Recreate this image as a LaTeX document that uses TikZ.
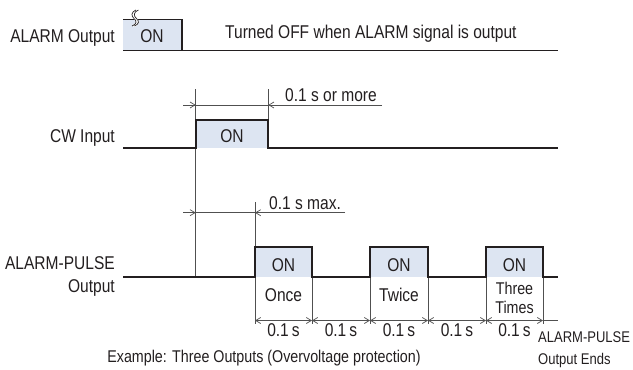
\documentclass[tikz,border=0pt]{standalone}
\usepackage{fontspec}
\setmainfont{Liberation Sans}[FakeStretch=0.84]
\usetikzlibrary{arrows.meta}
\definecolor{onfill}{HTML}{DDE5F2}
\definecolor{sigc}{HTML}{231F20}
\definecolor{dimc}{HTML}{505050}
\begin{document}
\begin{tikzpicture}[x=1pt,y=-1pt,
  sig/.style={line width=1.9pt, draw=sigc, line join=miter},
  thinline/.style={line width=0.7pt, draw=dimc},
  tip/.tip={Straight Barb[length=5pt,width=6pt,line width=0.7pt]},
  lbl/.style={inner sep=0pt, font=\fontsize{18.5}{15}\selectfont, text=sigc},
  slbl/.style={inner sep=0pt, font=\fontsize{15.5}{18}\selectfont, text=sigc}]
\useasboundingbox (0,0) rectangle (633,370);
\fill[white] (0,0) rectangle (633,370);

% ---------- ALARM Output ----------
\fill[onfill] (123,19.5) rectangle (182,50.5);
\draw[sig] (123,19.5) -- (182,19.5) -- (182,50.5);
\draw[sig] (123,50.5) -- (558,50.5);
% break mark
\draw[white, line width=2.8pt] (137.2,10) .. controls (132.2,12) and (132.2,16) .. (135.2,18.5) .. controls (138.2,21) and (138.2,24) .. (133.2,26);
\draw[sigc, line width=0.7pt] (136,10) .. controls (131,12) and (131,16) .. (134,18.5) .. controls (137,21) and (137,24) .. (132,26);
\draw[sigc, line width=0.7pt] (138.4,10) .. controls (133.4,12) and (133.4,16) .. (136.4,18.5) .. controls (139.4,21) and (139.4,24) .. (134.4,26);
\node[lbl, anchor=base east] (alarmlbl) at (115,42) {ALARM Output};
\node[lbl, anchor=base] (alarmon) at (152,42.5) {ON};
\node[lbl, anchor=base west] (note) at (225,38) {Turned OFF when ALARM signal is output};

% ---------- CW Input ----------
\coordinate (cwtop1) at (195.7,89);
\coordinate (cwtop2) at (268.3,89);
\coordinate (cwbot1) at (195.7,277.3);
\coordinate (cwbox2) at (268.3,120);
\draw[thinline] (cwtop1) -- (cwbot1);
\draw[thinline] (cwtop2) -- (cwbox2);
\fill[onfill] (195.7,120) rectangle (268.3,148.3);
\draw[sig] (123,148.3) -- (195.7,148.3) -- (195.7,120) -- (268.3,120) -- (268.3,148.3) -- (558,148.3);
\node[lbl, anchor=base east] (cwlbl) at (115,142.3) {CW Input};
\node[lbl, anchor=base] (cwon) at (232,142) {ON};

% dimension 1
\coordinate (d1a) at (183,105);
\coordinate (d1b) at (195.7,105);
\coordinate (d1c) at (268.3,105);
\coordinate (d1e) at (382,105);
\draw[thinline, -{tip}] (d1a) -- (d1b);
\draw[thinline] (d1b) -- (d1c);
\draw[thinline, -{tip}] (d1e) -- (d1c);
\node[lbl, anchor=base west] (d1txt) at (285,101) {0.1 s or more};

% dimension 2
\coordinate (d2a) at (183,212.7);
\coordinate (d2b) at (195.7,212.7);
\coordinate (d2c) at (255,212.7);
\coordinate (d2e) at (345,212.7);
\coordinate (d2top) at (255,202);
\coordinate (d2box) at (255,246.7);
\draw[thinline] (d2top) -- (d2box);
\draw[thinline, -{tip}] (d2a) -- (d2b);
\draw[thinline] (d2b) -- (d2c);
\draw[thinline, -{tip}] (d2e) -- (d2c);
\node[lbl, anchor=base west] (d2txt) at (269,209) {0.1 s max.};

% ---------- ALARM-PULSE Output ----------
\foreach \i/\a/\b in {1/255/312, 2/370/428, 3/486/543} {
  \fill[onfill] (\a,246.7) rectangle (\b,277.3);
}
\foreach \i/\x in {1/255, 2/312, 3/370, 4/428, 5/486, 6/543} {
  \coordinate (e\i) at (\x,320.5);
  \coordinate (t\i) at (\x,277.3);
  \draw[thinline] (\x,277.3) -- (\x,323.5);
}
\draw[sig] (123,277.3) -- (255,277.3) -- (255,246.7) -- (312,246.7) -- (312,277.3)
  -- (370,277.3) -- (370,246.7) -- (428,246.7) -- (428,277.3)
  -- (486,277.3) -- (486,246.7) -- (543,246.7) -- (543,277.3) -- (558,277.3);
\node[lbl, anchor=north east, align=right] (plbl) at (115,256.5) {ALARM-PULSE\\[8.3pt]Output};
\node[lbl, anchor=base] (on1) at (283.5,271) {ON};
\node[lbl, anchor=base] (on2) at (399,271) {ON};
\node[lbl, anchor=base] (on3) at (514.5,271) {ON};
\node[lbl, anchor=base] (once) at (283.5,301.7) {Once};
\node[lbl, anchor=base] (twice) at (399,301.7) {Twice};
\node[lbl, font=\fontsize{17}{15}\selectfont, anchor=base] (three) at (514.5,294) {Three};
\node[lbl, font=\fontsize{17}{15}\selectfont, anchor=base] (times) at (514.5,313) {Times};

% bottom dimension
\coordinate (eend) at (558,320.5);
\draw[thinline] (e6) -- (eend);
\draw[thinline, {tip}-{tip}] (e1) -- (e2);
\draw[thinline, {tip}-{tip}] (e2) -- (e3);
\draw[thinline, {tip}-{tip}] (e3) -- (e4);
\draw[thinline, {tip}-{tip}] (e4) -- (e5);
\draw[thinline, {tip}-{tip}] (e5) -- (e6);
\node[lbl, anchor=base] (s1) at (283.5,336) {0.1\,s};
\node[lbl, anchor=base] (s2) at (341,336) {0.1\,s};
\node[lbl, anchor=base] (s3) at (399,336) {0.1\,s};
\node[lbl, anchor=base] (s4) at (457,336) {0.1\,s};
\node[lbl, anchor=base] (s5) at (514.5,336) {0.1\,s};

\node[slbl, anchor=north west, align=left] (endlbl) at (538,331) {ALARM-PULSE\\[4pt]Output Ends};
\node[lbl, font=\fontsize{17}{20}\selectfont, anchor=base] (example) at (264,362) {Example: Three Outputs (Overvoltage protection)};
\end{tikzpicture}
\end{document}
